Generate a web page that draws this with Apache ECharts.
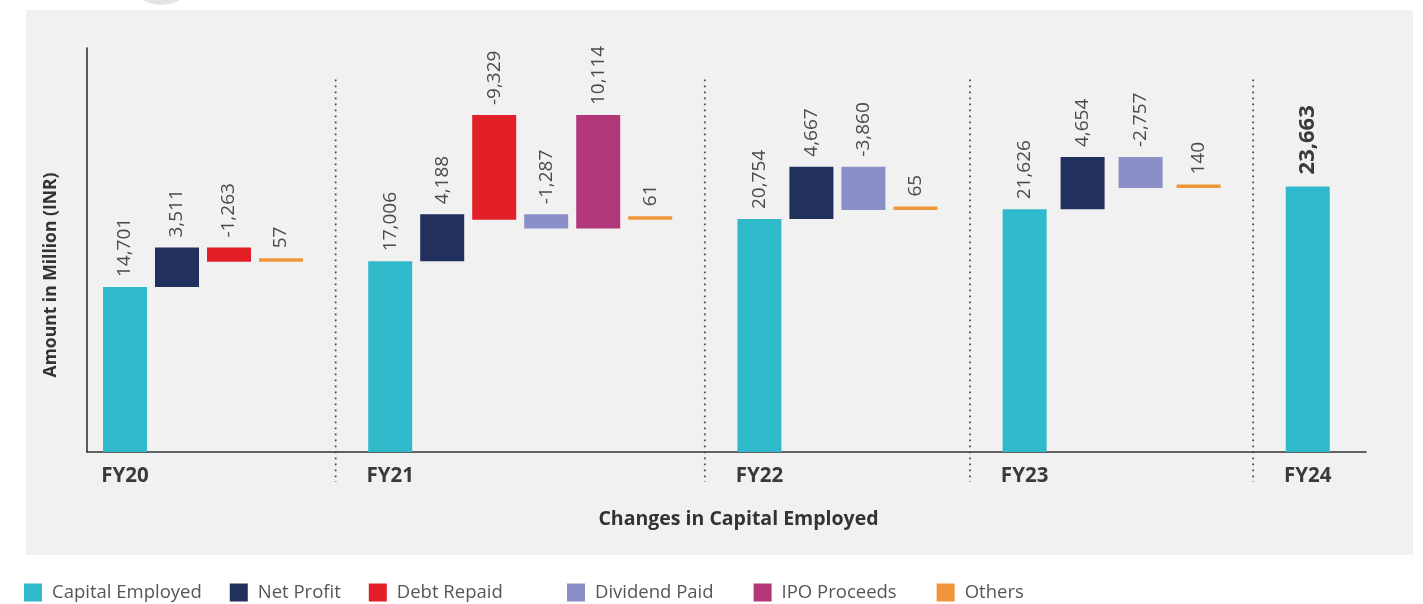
<!DOCTYPE html>
<html>
<head>
<meta charset="utf-8">
<script src="https://cdn.jsdelivr.net/npm/echarts@6/dist/echarts.min.js"></script>
<style>
  html, body { margin: 0; padding: 0; background: #ffffff; }
  #chart { width: 1423px; height: 604px; }
</style>
</head>
<body>
<div id="chart"></div>
<script>
// ---- data (INR million) ----
const years = ['FY20', 'FY21', 'FY22', 'FY23', 'FY24'];
const capitalEmployed = [14701, 17006, 20754, 21626, 23663];
const netProfit       = [3511, 4188, 4667, 4654, null];
const debtRepaid      = [-1263, -9329, null, null, null];
const dividendPaid    = [null, -1287, -3860, -2757, null];
const ipoProceeds     = [null, 10114, null, null, null];
const others          = [57, 61, 65, 140, null];

const seriesNames  = ['Capital Employed', 'Net Profit', 'Debt Repaid', 'Dividend Paid', 'IPO Proceeds', 'Others'];
const seriesValues = [capitalEmployed, netProfit, debtRepaid, dividendPaid, ipoProceeds, others];
const seriesColors = ['#30B9CA', '#21305C', '#E21E26', '#8B8FC7', '#B3387A', '#F0953A'];

// order in which the yearly movements are added onto the opening capital employed
const bridgeOrder = ['Net Profit', 'Dividend Paid', 'IPO Proceeds', 'Debt Repaid', 'Others'];

// ---- layout (x axis measured in bar slots) ----
const GROUP_GAP = 2.1;                    // slots from a year's last bar to the next year's first bar
const GROUP_PITCH = [1, 1, 1, 1.115, 1];  // spacing of bars inside each year
const BAR_W = 44;
const MIN_H = 3.5;
const SEP_TOP = 33200;
const FONT = '"Open Sans", "Liberation Sans", sans-serif';

// slot position of every bar, and the dotted separators between years
const slotX = {};
const separators = [];
seriesNames.forEach(n => { slotX[n] = []; });
let cursor = 0;
years.forEach((y, g) => {
  let i = 0;
  seriesNames.forEach((name, s) => {
    if (seriesValues[s][g] == null) return;
    slotX[name][g] = cursor + i * GROUP_PITCH[g];
    i++;
  });
  const last = cursor + (i - 1) * GROUP_PITCH[g];
  if (g < years.length - 1) {
    separators.push(last + GROUP_GAP / 2);
    cursor = last + GROUP_GAP;
  }
});

// floating span [from, to] of every bar, built as a running total per year
const spans = {};
seriesNames.forEach(n => { spans[n] = []; });
years.forEach((y, g) => {
  let total = capitalEmployed[g];
  spans['Capital Employed'][g] = [0, total];
  bridgeOrder.forEach(name => {
    const v = seriesValues[seriesNames.indexOf(name)][g];
    if (v == null) return;
    spans[name][g] = [total, total + v];
    total += v;
  });
});

const fmt = v => Number(v).toLocaleString('en-US');

function makeBarSeries(name, s) {
  const data = [];
  years.forEach((y, g) => {
    const v = seriesValues[s][g];
    if (v == null) return;
    data.push([slotX[name][g], spans[name][g][0], spans[name][g][1], v, g]);
  });
  const color = seriesColors[s];
  return {
    name: name,
    type: 'custom',
    clip: false,
    itemStyle: { color: color },
    encode: { x: 0, y: [1, 2] },
    data: data,
    renderItem: function (params, api) {
      const x = api.value(0), from = api.value(1), to = api.value(2), val = api.value(3), g = api.value(4);
      const pLow = api.coord([x, Math.min(from, to)]);
      const pHigh = api.coord([x, Math.max(from, to)]);
      const yBottom = pLow[1];
      let yTop = pHigh[1];
      if (yBottom - yTop < MIN_H) yTop = yBottom - MIN_H;
      const closing = (name === 'Capital Employed' && g === years.length - 1);
      return {
        type: 'group',
        children: [
          {
            type: 'rect',
            shape: { x: pLow[0] - BAR_W / 2, y: yTop, width: BAR_W, height: yBottom - yTop },
            style: { fill: color }
          },
          {
            type: 'text',
            x: pLow[0],
            y: yTop - (closing ? 12 : 10),
            rotation: Math.PI / 2,
            style: {
              text: fmt(val),
              align: 'left',
              verticalAlign: 'middle',
              fill: closing ? '#3a3a3a' : '#4a4a4a',
              fontFamily: FONT,
              fontSize: closing ? 22 : 19,
              fontWeight: closing ? 'bold' : 'normal'
            }
          }
        ]
      };
    }
  };
}

const series = seriesNames.map((n, s) => makeBarSeries(n, s));

// dotted dividers between the years
series.push({
  name: 'dividers',
  type: 'custom',
  silent: true,
  clip: false,
  data: separators.map(x => [x]),
  encode: { x: 0 },
  renderItem: function (params, api) {
    const top = api.coord([api.value(0), SEP_TOP]);
    const base = api.coord([api.value(0), 0]);
    return {
      type: 'line',
      shape: { x1: top[0], y1: top[1], x2: base[0], y2: base[1] + 30 },
      style: { stroke: '#4a4a4a', lineWidth: 1.8, lineDash: [1.8, 4.2] }
    };
  }
});

const ceSlots = slotX['Capital Employed'];

const legendBase = {
  top: 583,
  padding: 0,
  icon: 'rect',
  itemWidth: 18,
  itemHeight: 18,
  itemGap: 28,
  textStyle: { fontFamily: FONT, fontSize: 18.5, color: '#555555', padding: [0, 0, 0, 5] }
};

const chart = echarts.init(document.getElementById('chart'), null, { renderer: 'canvas' });
chart.setOption({
  animation: false,
  backgroundColor: '#ffffff',
  graphic: [
    { type: 'circle', shape: { cx: 161.5, cy: -31.7, r: 36.7 }, style: { fill: '#e4e4e4' }, z: -10, silent: true },
    { type: 'rect', shape: { x: 26, y: 10, width: 1387, height: 545 }, style: { fill: '#f1f1f1' }, z: -10, silent: true }
  ],
  grid: { left: 87, right: 57, top: 48, bottom: 152, containLabel: false },
  legend: [
    Object.assign({}, legendBase, { data: seriesNames.slice(0, 3), left: 24 }),
    Object.assign({}, legendBase, { data: seriesNames.slice(3), left: 567, itemGap: 40 })
  ],
  xAxis: {
    type: 'value',
    min: -0.731,
    max: 23.865,
    splitLine: { show: false },
    axisTick: { show: false },
    axisLine: { show: true, onZero: false, lineStyle: { color: '#333333', width: 1.6 } },
    axisLabel: {
      customValues: ceSlots,
      formatter: v => years[ceSlots.findIndex(c => Math.abs(c - v) < 1e-6)] || '',
      fontFamily: FONT,
      fontWeight: 'bold',
      fontSize: 20.5,
      color: '#3a3a3a',
      margin: 14
    },
    name: 'Changes in Capital Employed',
    nameLocation: 'middle',
    nameGap: 57,
    nameTextStyle: { fontFamily: FONT, fontWeight: 'bold', fontSize: 19.5, color: '#333333', padding: [0, 0, 0, 24] }
  },
  yAxis: {
    type: 'value',
    min: 0,
    max: 36000,
    splitLine: { show: false },
    axisTick: { show: false },
    axisLabel: { show: false },
    axisLine: { show: true, onZero: false, lineStyle: { color: '#333333', width: 1.6 } },
    name: 'Amount in Million (INR)',
    nameLocation: 'middle',
    nameGap: 27,
    nameTextStyle: { fontFamily: FONT, fontWeight: 'bold', fontSize: 17.5, color: '#333333', padding: [0, 50, 0, 0] }
  },
  series: series
});
</script>
</body>
</html>
